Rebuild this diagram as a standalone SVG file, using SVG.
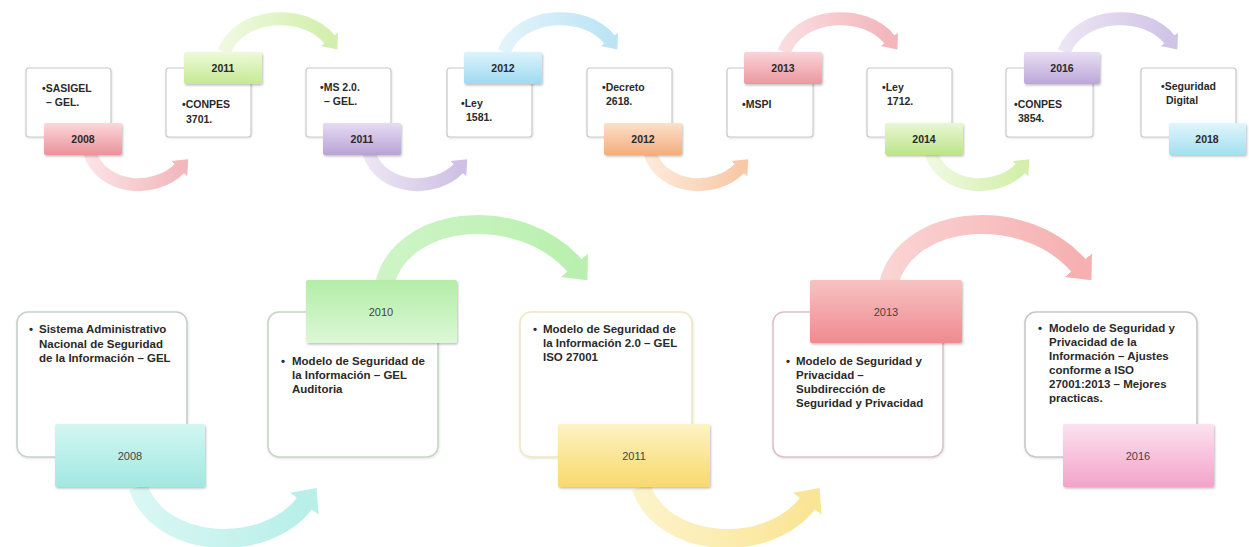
<svg xmlns="http://www.w3.org/2000/svg" width="1249" height="547" viewBox="0 0 1249 547">
<style>
  .bx { fill: #ffffff; stroke: #c9c9c9; stroke-width: 1.2; }
  .bb { fill: #ffffff; stroke-width: 1.6; }
  .tab { stroke: none; filter: url(#sh); }
  .t { font-family: "Liberation Sans", Arial, sans-serif; font-weight: bold; font-size: 10.5px; fill: #2a2a2a; }
  .ty { font-family: "Liberation Sans", Arial, sans-serif; font-weight: bold; font-size: 10.5px; fill: #2a2a2a; text-anchor: middle; }
  .tb { font-family: "Liberation Sans", Arial, sans-serif; font-weight: bold; font-size: 11.5px; fill: #2a2a2a; }
  .tyb { font-family: "Liberation Sans", Arial, sans-serif; font-size: 11px; fill: #444444; text-anchor: middle; }
  .as { fill: none; stroke-width: 13; }
  .al { fill: none; stroke-width: 19; }
</style>
<defs>
  <filter id="sh" x="-10%" y="-10%" width="130%" height="140%">
    <feDropShadow dx="1" dy="1.5" stdDeviation="1" flood-color="#000" flood-opacity="0.25"/>
  </filter>
  <filter id="shb" x="-10%" y="-10%" width="130%" height="130%">
    <feDropShadow dx="0.5" dy="1" stdDeviation="1" flood-color="#000" flood-opacity="0.12"/>
  </filter>
  <!-- tab gradients -->
  <linearGradient id="gPink" x1="0" y1="0" x2="0" y2="1"><stop offset="0" stop-color="#fbd8da"/><stop offset="1" stop-color="#ea929a"/></linearGradient>
  <linearGradient id="gGreenT" x1="0" y1="0" x2="0" y2="1"><stop offset="0" stop-color="#eef9d9"/><stop offset="1" stop-color="#c6e993"/></linearGradient>
  <linearGradient id="gPurple" x1="0" y1="0" x2="0" y2="1"><stop offset="0" stop-color="#e6dcf2"/><stop offset="1" stop-color="#b8a2d6"/></linearGradient>
  <linearGradient id="gBlue" x1="0" y1="0" x2="0" y2="1"><stop offset="0" stop-color="#dcf3fc"/><stop offset="1" stop-color="#9fd9f1"/></linearGradient>
  <linearGradient id="gOrange" x1="0" y1="0" x2="0" y2="1"><stop offset="0" stop-color="#fce0cb"/><stop offset="1" stop-color="#f2ad7c"/></linearGradient>
  <linearGradient id="gPink2" x1="0" y1="0" x2="0" y2="1"><stop offset="0" stop-color="#fad4d8"/><stop offset="1" stop-color="#ec97a0"/></linearGradient>
  <linearGradient id="gGreen2" x1="0" y1="0" x2="0" y2="1"><stop offset="0" stop-color="#e9f7d3"/><stop offset="1" stop-color="#bde48a"/></linearGradient>
  <linearGradient id="gPurple2" x1="0" y1="0" x2="0" y2="1"><stop offset="0" stop-color="#e8def3"/><stop offset="1" stop-color="#bca7d8"/></linearGradient>
  <linearGradient id="gCyan" x1="0" y1="0" x2="0" y2="1"><stop offset="0" stop-color="#e0f6fc"/><stop offset="1" stop-color="#a4dff0"/></linearGradient>
  <linearGradient id="gBCyan" x1="0" y1="0" x2="0" y2="1"><stop offset="0" stop-color="#d3f6f2"/><stop offset="1" stop-color="#a2e8e1"/></linearGradient>
  <linearGradient id="gBGreen" x1="0" y1="0" x2="0" y2="1"><stop offset="0" stop-color="#b3eda7"/><stop offset="1" stop-color="#dcf8d6"/></linearGradient>
  <linearGradient id="gBYellow" x1="0" y1="0" x2="0" y2="1"><stop offset="0" stop-color="#fdf3c4"/><stop offset="1" stop-color="#f8d96c"/></linearGradient>
  <linearGradient id="gBRed" x1="0" y1="0" x2="0" y2="1"><stop offset="0" stop-color="#f8c2c2"/><stop offset="1" stop-color="#ef8a8f"/></linearGradient>
  <linearGradient id="gBPink" x1="0" y1="0" x2="0" y2="1"><stop offset="0" stop-color="#fce2ef"/><stop offset="1" stop-color="#f3a3ca"/></linearGradient>
  <!-- arrow gradients -->
  <linearGradient id="aPink" x1="0" y1="0" x2="1" y2="0"><stop offset="0" stop-color="#fbe2e4"/><stop offset="1" stop-color="#f2b8bd"/></linearGradient>
  <linearGradient id="aGreen" x1="0" y1="0" x2="1" y2="0"><stop offset="0" stop-color="#eff9e0"/><stop offset="1" stop-color="#d3efad"/></linearGradient>
  <linearGradient id="aPurple" x1="0" y1="0" x2="1" y2="0"><stop offset="0" stop-color="#ece5f4"/><stop offset="1" stop-color="#cfc1e4"/></linearGradient>
  <linearGradient id="aBlue" x1="0" y1="0" x2="1" y2="0"><stop offset="0" stop-color="#e2f4fb"/><stop offset="1" stop-color="#bce4f4"/></linearGradient>
  <linearGradient id="aOrange" x1="0" y1="0" x2="1" y2="0"><stop offset="0" stop-color="#fde9da"/><stop offset="1" stop-color="#f7c9a6"/></linearGradient>
  <linearGradient id="aPink2" x1="0" y1="0" x2="1" y2="0"><stop offset="0" stop-color="#fadde0"/><stop offset="1" stop-color="#f2b6bc"/></linearGradient>
  <linearGradient id="aGreen2" x1="0" y1="0" x2="1" y2="0"><stop offset="0" stop-color="#eff9e0"/><stop offset="1" stop-color="#d3efab"/></linearGradient>
  <linearGradient id="aPurple2" x1="0" y1="0" x2="1" y2="0"><stop offset="0" stop-color="#ece5f4"/><stop offset="1" stop-color="#d0c4e6"/></linearGradient>
  <linearGradient id="aBCyan" x1="0" y1="0" x2="1" y2="0"><stop offset="0" stop-color="#d9f7f4"/><stop offset="1" stop-color="#b8efe9"/></linearGradient>
  <linearGradient id="aBGreen" x1="0" y1="0" x2="1" y2="0"><stop offset="0" stop-color="#cef4c6"/><stop offset="1" stop-color="#b9f0af"/></linearGradient>
  <linearGradient id="aBYellow" x1="0" y1="0" x2="1" y2="0"><stop offset="0" stop-color="#fdf3c9"/><stop offset="1" stop-color="#fae596"/></linearGradient>
  <linearGradient id="aBRed" x1="0" y1="0" x2="1" y2="0"><stop offset="0" stop-color="#fad3d3"/><stop offset="1" stop-color="#f6b0b1"/></linearGradient>
  <!-- markers -->
  <marker id="mPink" markerUnits="userSpaceOnUse" viewBox="0 -13 16 26" markerWidth="16" markerHeight="26" refX="1" refY="0" orient="auto"><path d="M0,-11 L13,0 L0,11 Z" fill="#f2b8bd"/></marker>
  <marker id="mGreen" markerUnits="userSpaceOnUse" viewBox="0 -13 16 26" markerWidth="16" markerHeight="26" refX="1" refY="0" orient="auto"><path d="M0,-11 L13,0 L0,11 Z" fill="#d3efad"/></marker>
  <marker id="mPurple" markerUnits="userSpaceOnUse" viewBox="0 -13 16 26" markerWidth="16" markerHeight="26" refX="1" refY="0" orient="auto"><path d="M0,-11 L13,0 L0,11 Z" fill="#cfc1e4"/></marker>
  <marker id="mBlue" markerUnits="userSpaceOnUse" viewBox="0 -13 16 26" markerWidth="16" markerHeight="26" refX="1" refY="0" orient="auto"><path d="M0,-11 L13,0 L0,11 Z" fill="#bce4f4"/></marker>
  <marker id="mOrange" markerUnits="userSpaceOnUse" viewBox="0 -13 16 26" markerWidth="16" markerHeight="26" refX="1" refY="0" orient="auto"><path d="M0,-11 L13,0 L0,11 Z" fill="#f7c9a6"/></marker>
  <marker id="mPink2" markerUnits="userSpaceOnUse" viewBox="0 -13 16 26" markerWidth="16" markerHeight="26" refX="1" refY="0" orient="auto"><path d="M0,-11 L13,0 L0,11 Z" fill="#f2b6bc"/></marker>
  <marker id="mGreen2" markerUnits="userSpaceOnUse" viewBox="0 -13 16 26" markerWidth="16" markerHeight="26" refX="1" refY="0" orient="auto"><path d="M0,-11 L13,0 L0,11 Z" fill="#d3efab"/></marker>
  <marker id="mPurple2" markerUnits="userSpaceOnUse" viewBox="0 -13 16 26" markerWidth="16" markerHeight="26" refX="1" refY="0" orient="auto"><path d="M0,-11 L13,0 L0,11 Z" fill="#d0c4e6"/></marker>
  <marker id="mBCyan" markerUnits="userSpaceOnUse" viewBox="0 -22 25 44" markerWidth="25" markerHeight="44" refX="1" refY="0" orient="auto"><path d="M0,-18 L20,0 L0,18 Z" fill="#b8efe9"/></marker>
  <marker id="mBGreen" markerUnits="userSpaceOnUse" viewBox="0 -22 25 44" markerWidth="25" markerHeight="44" refX="1" refY="0" orient="auto"><path d="M0,-18 L20,0 L0,18 Z" fill="#b9f0af"/></marker>
  <marker id="mBYellow" markerUnits="userSpaceOnUse" viewBox="0 -22 25 44" markerWidth="25" markerHeight="44" refX="1" refY="0" orient="auto"><path d="M0,-18 L20,0 L0,18 Z" fill="#fae596"/></marker>
  <marker id="mBRed" markerUnits="userSpaceOnUse" viewBox="0 -22 25 44" markerWidth="25" markerHeight="44" refX="1" refY="0" orient="auto"><path d="M0,-18 L20,0 L0,18 Z" fill="#f6b0b1"/></marker>
</defs>

<rect x="0" y="0" width="1249" height="547" fill="#ffffff"/>

<g id="connectors">
  <path class="as" d="M 90,153 C 102,190 155,194 180,168" stroke="url(#aPink)" marker-end="url(#mPink)"/>
  <path class="as" d="M 224,52 C 239,12 305,8 330,40" stroke="url(#aGreen)" marker-end="url(#mGreen)"/>
  <path class="as" d="M 369,153 C 381,190 434,194 459,168" stroke="url(#aPurple)" marker-end="url(#mPurple)"/>
  <path class="as" d="M 504,52 C 519,12 585,8 610,40" stroke="url(#aBlue)" marker-end="url(#mBlue)"/>
  <path class="as" d="M 650,153 C 662,190 715,194 740,168" stroke="url(#aOrange)" marker-end="url(#mOrange)"/>
  <path class="as" d="M 784,52 C 799,12 865,8 890,40" stroke="url(#aPink2)" marker-end="url(#mPink2)"/>
  <path class="as" d="M 931,153 C 943,190 996,194 1021,168" stroke="url(#aGreen2)" marker-end="url(#mGreen2)"/>
  <path class="as" d="M 1064,52 C 1079,12 1145,8 1170,40" stroke="url(#aPurple2)" marker-end="url(#mPurple2)"/>

  <path class="al" d="M 138,487 C 160,550 265,555 305,503" stroke="url(#aBCyan)" marker-end="url(#mBCyan)"/>
  <path class="al" d="M 385,282 C 405,212 522,205 575,266" stroke="url(#aBGreen)" marker-end="url(#mBGreen)"/>
  <path class="al" d="M 641,487 C 663,550 768,555 808,503" stroke="url(#aBYellow)" marker-end="url(#mBYellow)"/>
  <path class="al" d="M 889,282 C 909,212 1026,205 1079,266" stroke="url(#aBRed)" marker-end="url(#mBRed)"/>
</g>

<!-- top row -->
<g id="n-2008-sasigel">
  <rect class="bx" x="26" y="68" width="85" height="69" rx="3" filter="url(#shb)"/>
  <rect class="tab" x="44" y="123" width="78" height="32" rx="2" fill="url(#gPink)"/>
  <text class="t" x="42" y="92">•SASIGEL</text>
  <text class="t" x="46" y="106">– GEL.</text>
  <text class="ty" x="83" y="143">2008</text>
</g>
<g id="n-2011-conpes">
  <rect class="bx" x="166" y="68" width="85" height="69" rx="3" filter="url(#shb)"/>
  <rect class="tab" x="184" y="52" width="78" height="32" rx="2" fill="url(#gGreenT)"/>
  <text class="t" x="182" y="108">•CONPES</text>
  <text class="t" x="186" y="123">3701.</text>
  <text class="ty" x="223" y="72">2011</text>
</g>
<g id="n-2011-ms">
  <rect class="bx" x="306" y="68" width="85" height="69" rx="3" filter="url(#shb)"/>
  <rect class="tab" x="323" y="123" width="78" height="32" rx="2" fill="url(#gPurple)"/>
  <text class="t" x="320" y="91">•MS 2.0.</text>
  <text class="t" x="324" y="105">– GEL.</text>
  <text class="ty" x="362" y="143">2011</text>
</g>
<g id="n-2012-ley">
  <rect class="bx" x="447" y="68" width="85" height="69" rx="3" filter="url(#shb)"/>
  <rect class="tab" x="464" y="52" width="78" height="32" rx="2" fill="url(#gBlue)"/>
  <text class="t" x="461" y="107">•Ley</text>
  <text class="t" x="466" y="121">1581.</text>
  <text class="ty" x="503" y="72">2012</text>
</g>
<g id="n-2012-decreto">
  <rect class="bx" x="587" y="68" width="85" height="69" rx="3" filter="url(#shb)"/>
  <rect class="tab" x="604" y="123" width="78" height="32" rx="2" fill="url(#gOrange)"/>
  <text class="t" x="602" y="91">•Decreto</text>
  <text class="t" x="606" y="105">2618.</text>
  <text class="ty" x="643" y="143">2012</text>
</g>
<g id="n-2013-mspi">
  <rect class="bx" x="727" y="68" width="86" height="69" rx="3" filter="url(#shb)"/>
  <rect class="tab" x="744" y="52" width="78" height="32" rx="2" fill="url(#gPink2)"/>
  <text class="t" x="742" y="108">•MSPI</text>
  <text class="ty" x="783" y="72">2013</text>
</g>
<g id="n-2014-ley">
  <rect class="bx" x="867" y="68" width="85" height="69" rx="3" filter="url(#shb)"/>
  <rect class="tab" x="885" y="123" width="78" height="32" rx="2" fill="url(#gGreen2)"/>
  <text class="t" x="882" y="91">•Ley</text>
  <text class="t" x="887" y="105">1712.</text>
  <text class="ty" x="924" y="143">2014</text>
</g>
<g id="n-2016-conpes">
  <rect class="bx" x="1006" y="68" width="87" height="69" rx="3" filter="url(#shb)"/>
  <rect class="tab" x="1024" y="52" width="76" height="32" rx="2" fill="url(#gPurple2)"/>
  <text class="t" x="1014" y="108">•CONPES</text>
  <text class="t" x="1018" y="122">3854.</text>
  <text class="ty" x="1062" y="72">2016</text>
</g>
<g id="n-2018-seguridad">
  <rect class="bx" x="1141" y="68" width="95" height="69" rx="3" filter="url(#shb)"/>
  <rect class="tab" x="1169" y="123" width="77" height="32" rx="2" fill="url(#gCyan)"/>
  <text class="t" x="1161" y="90">•Seguridad</text>
  <text class="t" x="1166" y="104">Digital</text>
  <text class="ty" x="1207" y="143">2018</text>
</g>

<!-- bottom row -->
<g id="n-b2008">
  <rect class="bb" x="17" y="312" width="170" height="145" rx="11" stroke="#c6d0cc" filter="url(#shb)"/>
  <rect class="tab" x="55" y="424" width="150" height="63" rx="2" fill="url(#gBCyan)"/>
  <text class="tb" x="29" y="333">•</text>
  <text class="tb" x="39" y="333">Sistema Administrativo</text>
  <text class="tb" x="39" y="348">Nacional de Seguridad</text>
  <text class="tb" x="39" y="362">de la Información – GEL</text>
  <text class="tyb" x="130" y="460">2008</text>
</g>
<g id="n-b2010">
  <rect class="bb" x="268" y="312" width="170" height="145" rx="11" stroke="#c6d6c3" filter="url(#shb)"/>
  <rect class="tab" x="306" y="280" width="151" height="63" rx="2" fill="url(#gBGreen)"/>
  <text class="tb" x="281" y="365">•</text>
  <text class="tb" x="292" y="365">Modelo de Seguridad de</text>
  <text class="tb" x="292" y="379">la Información – GEL</text>
  <text class="tb" x="292" y="393">Auditoria</text>
  <text class="tyb" x="381" y="316">2010</text>
</g>
<g id="n-b2011">
  <rect class="bb" x="520" y="312" width="172" height="145" rx="11" stroke="#eee8c4" filter="url(#shb)"/>
  <rect class="tab" x="558" y="424" width="152" height="63" rx="2" fill="url(#gBYellow)"/>
  <text class="tb" x="533" y="333">•</text>
  <text class="tb" x="543" y="333">Modelo de Seguridad de</text>
  <text class="tb" x="543" y="347">la Información 2.0 – GEL</text>
  <text class="tb" x="543" y="361">ISO 27001</text>
  <text class="tyb" x="634" y="460">2011</text>
</g>
<g id="n-b2013">
  <rect class="bb" x="773" y="312" width="170" height="145" rx="11" stroke="#dcc2c5" filter="url(#shb)"/>
  <rect class="tab" x="810" y="280" width="152" height="63" rx="2" fill="url(#gBRed)"/>
  <text class="tb" x="786" y="365">•</text>
  <text class="tb" x="796" y="365">Modelo de Seguridad y</text>
  <text class="tb" x="796" y="379">Privacidad  –</text>
  <text class="tb" x="796" y="393">Subdirección de</text>
  <text class="tb" x="796" y="407">Seguridad y Privacidad</text>
  <text class="tyb" x="886" y="316">2013</text>
</g>
<g id="n-b2016">
  <rect class="bb" x="1025" y="312" width="172" height="145" rx="11" stroke="#c8c8c8" filter="url(#shb)"/>
  <rect class="tab" x="1063" y="424" width="151" height="63" rx="2" fill="url(#gBPink)"/>
  <text class="tb" x="1038" y="332">•</text>
  <text class="tb" x="1049" y="332">Modelo de Seguridad y</text>
  <text class="tb" x="1049" y="346">Privacidad de la</text>
  <text class="tb" x="1049" y="360">Información – Ajustes</text>
  <text class="tb" x="1049" y="374">conforme a ISO</text>
  <text class="tb" x="1049" y="388">27001:2013 – Mejores</text>
  <text class="tb" x="1049" y="402">practicas.</text>
  <text class="tyb" x="1138" y="460">2016</text>
</g>
</svg>
